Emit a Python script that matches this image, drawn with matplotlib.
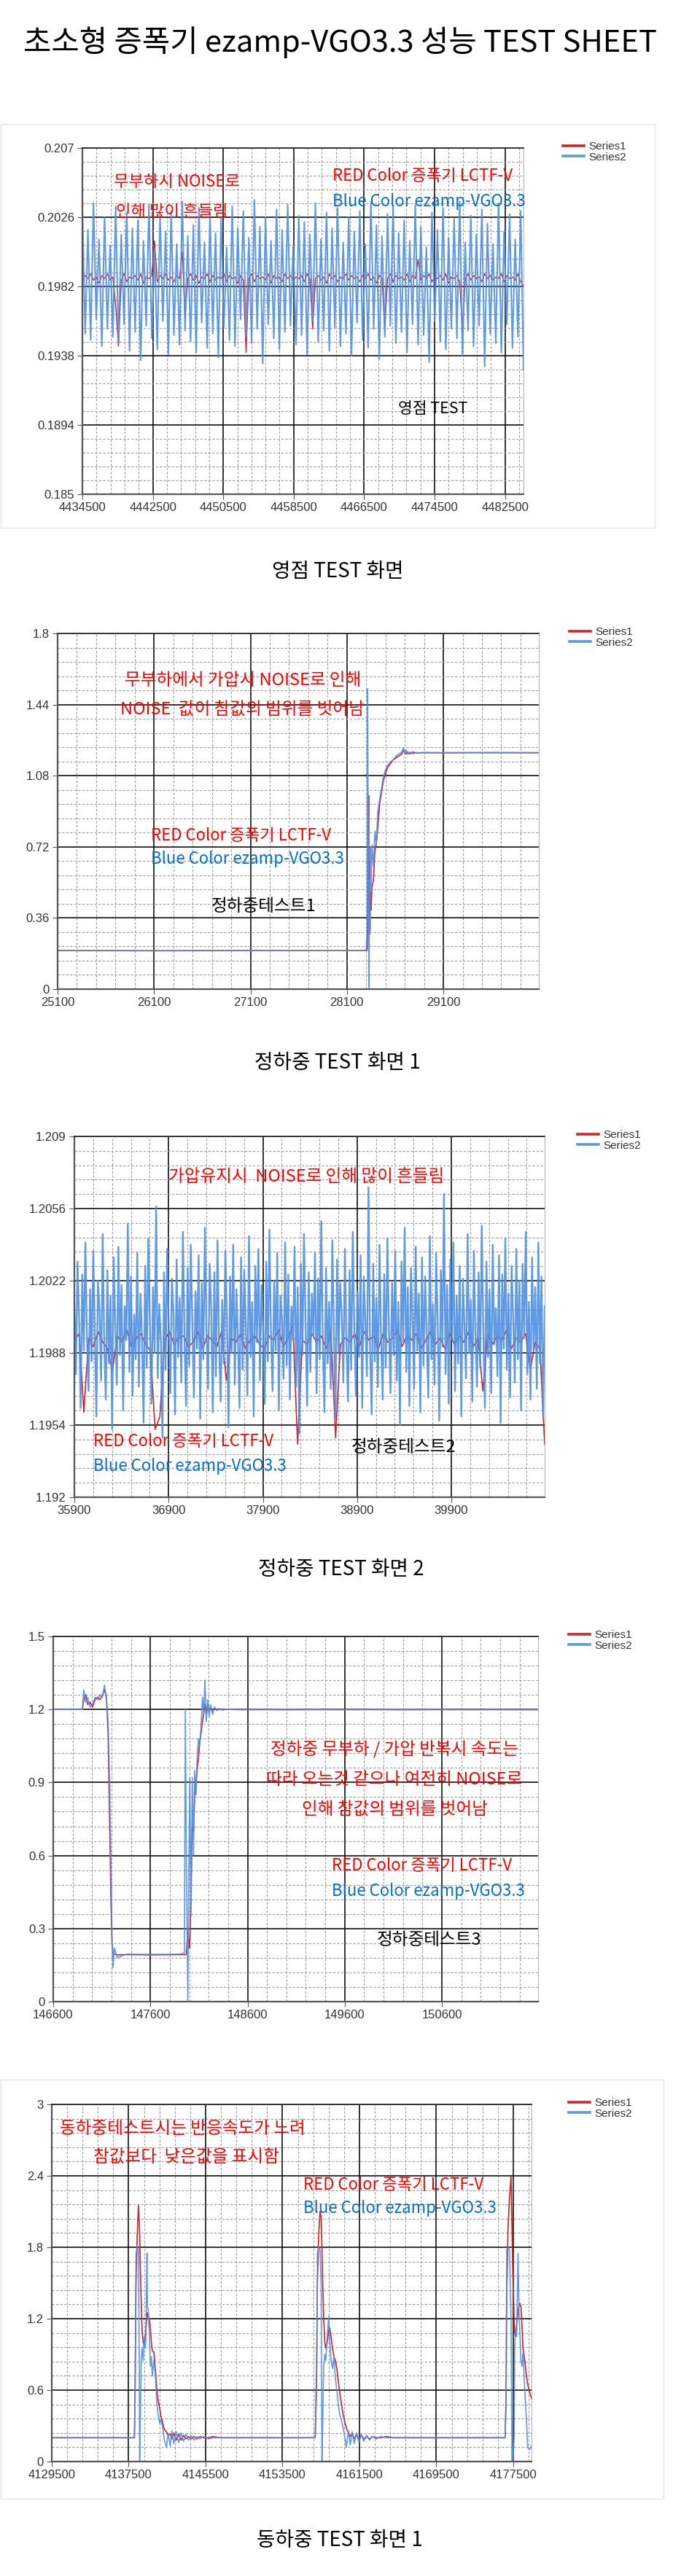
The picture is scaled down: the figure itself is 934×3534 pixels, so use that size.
import numpy as np
import matplotlib
matplotlib.use('Agg')
import matplotlib.pyplot as plt
from matplotlib.lines import Line2D
from matplotlib.patches import Rectangle
from matplotlib.ticker import AutoMinorLocator
from matplotlib import font_manager

W, H = 934, 3534
KR = ['Noto Sans CJK KR', 'DejaVu Sans']
names = {f.name for f in font_manager.fontManager.ttflist}
TICK_FONT = 'Liberation Sans Narrow' if 'Liberation Sans Narrow' in names else 'Liberation Sans'

RED = '#d0222c'
BLUE = '#4f8fe3'
TXT_RED = '#ff0000'
TXT_BLUE = '#0a6ec8'

# ---------------- chart 1 : 영점 TEST ----------------
x1_range = [4434500, 4484600]
x1_ticks = [4434500, 4442500, 4450500, 4458500, 4466500, 4474500, 4482500]
y1_ticks = [0.185, 0.1894, 0.1938, 0.1982, 0.2026, 0.207]
y1_labels = ['0.185', '0.1894', '0.1938', '0.1982', '0.2026', '0.207']
blue1 = [0.2031, 0.1952, 0.2018, 0.1948, 0.2035, 0.1961, 0.2012, 0.1944, 0.2026, 0.1955, 0.2008, 0.1950, 0.2033, 0.1946, 0.2015, 0.1958, 0.2029, 0.1941, 0.2019, 0.1953,
         0.2024, 0.1935, 0.2011, 0.1957, 0.2034, 0.1949, 0.2006, 0.1942, 0.2027, 0.1960, 0.2017, 0.1939, 0.2030, 0.1951, 0.2009, 0.1945, 0.2036, 0.1954, 0.2014, 0.1947,
         0.2021, 0.1940, 0.2032, 0.1959, 0.2010, 0.1943, 0.2028, 0.1952, 0.2016, 0.1937, 0.2025, 0.1956, 0.2007, 0.1948, 0.2033, 0.1944, 0.2019, 0.1961, 0.2030, 0.1950,
         0.2013, 0.1946, 0.2037, 0.1955, 0.2020, 0.1933, 0.2026, 0.1958, 0.2011, 0.1949, 0.2031, 0.1942, 0.2018, 0.1953, 0.2034, 0.1957, 0.2008, 0.1945, 0.2027, 0.1951,
         0.2023, 0.1939, 0.2015, 0.1960, 0.2035, 0.1947, 0.2012, 0.1954, 0.2029, 0.1941, 0.2019, 0.1956, 0.2032, 0.1944, 0.2010, 0.1952, 0.2026, 0.1938, 0.2017, 0.1959,
         0.2030, 0.1948, 0.2009, 0.1943, 0.2036, 0.1955, 0.2021, 0.1936, 0.2014, 0.1950, 0.2028, 0.1957, 0.2033, 0.1946, 0.2016, 0.1953, 0.2024, 0.1940, 0.2011, 0.1958,
         0.2034, 0.1945, 0.2020, 0.1951, 0.2007, 0.1934, 0.2029, 0.1960, 0.2018, 0.1947, 0.2032, 0.1942, 0.2013, 0.1955, 0.2025, 0.1949, 0.2036, 0.1938, 0.2010, 0.1954,
         0.2027, 0.1944, 0.2015, 0.1957, 0.2031, 0.1931, 0.2022, 0.1952, 0.2009, 0.1946, 0.2035, 0.1940, 0.2017, 0.1958, 0.2028, 0.1943, 0.2012, 0.1950, 0.2030, 0.1929]
red1 = [0.1985, 0.1989, 0.1987, 0.1990, 0.1986, 0.1988, 0.1984, 0.1989, 0.1987, 0.1990, 0.1986, 0.1988, 0.1970, 0.1944, 0.1986, 0.1990, 0.1985, 0.1988, 0.1987, 0.1989,
        0.1986, 0.1990, 0.1984, 0.1988, 0.1987, 0.1989, 0.2011, 0.1985, 0.1989, 0.1987, 0.1990, 0.1986, 0.1988, 0.1985, 0.1989, 0.1987, 0.2004, 0.1963, 0.1987, 0.1990,
        0.1986, 0.1989, 0.1984, 0.1988, 0.1987, 0.1990, 0.1985, 0.1989, 0.1986, 0.1988, 0.1987, 0.1990, 0.1985, 0.1989, 0.1987, 0.1988, 0.1984, 0.1989, 0.1986, 0.1940,
        0.1987, 0.1990, 0.1985, 0.1989, 0.1987, 0.1988, 0.1986, 0.1990, 0.1984, 0.1989, 0.1987, 0.1988, 0.1985, 0.1990, 0.1987, 0.1989, 0.1986, 0.1988, 0.1987, 0.1989,
        0.1985, 0.1990, 0.1987, 0.1955, 0.1987, 0.1989, 0.1986, 0.1988, 0.1984, 0.1990, 0.1987, 0.1989, 0.1985, 0.1988, 0.1987, 0.1990, 0.1986, 0.1989, 0.1987, 0.1988,
        0.1985, 0.1989, 0.1987, 0.1990, 0.1986, 0.1988, 0.1984, 0.1989, 0.1987, 0.1955, 0.1987, 0.1990, 0.1985, 0.1989, 0.1987, 0.1988, 0.1986, 0.1990, 0.1985, 0.1989,
        0.1987, 0.1999, 0.1986, 0.1989, 0.1987, 0.1990, 0.1985, 0.1988, 0.1987, 0.1989, 0.1986, 0.1990, 0.1984, 0.1988, 0.1987, 0.1989, 0.1985, 0.1953, 0.1987, 0.1990,
        0.1986, 0.1989, 0.1987, 0.1988, 0.1985, 0.1990, 0.1987, 0.1989, 0.1986, 0.1988, 0.1987, 0.1990, 0.1985, 0.1989, 0.1987, 0.1988, 0.1986, 0.1990, 0.1985, 0.1982]

# ---------------- chart 2 : 정하중 테스트 1 ----------------
x2_range = [25100, 30090]
x2_ticks = [25100, 26100, 27100, 28100, 29100]
y2_ticks = [0, 0.36, 0.72, 1.08, 1.44, 1.8]
y2_labels = ['0', '0.36', '0.72', '1.08', '1.44', '1.8']
x2 = [25100, 26100, 27100, 28100, 28300, 28310, 28315, 28320, 28325, 28330, 28335, 28340, 28345, 28350, 28360, 28375,
      28390, 28405, 28420, 28440, 28460, 28480, 28500, 28520, 28550, 28580, 28610, 28640, 28670, 28685, 28700, 28715,
      28730, 28750, 28780, 28820, 28900, 29100, 29600, 30100]
red2 = [0.195, 0.194, 0.195, 0.195, 0.195, 0.196, 0.30, 0.62, 0.98, 0.45, 0.28, 0.42, 0.49, 0.40, 0.52, 0.55,
        0.70, 0.74, 0.82, 0.94, 1.00, 1.06, 1.09, 1.12, 1.14, 1.16, 1.17, 1.18, 1.19, 1.21, 1.20, 1.19,
        1.20, 1.19, 1.20, 1.195, 1.197, 1.196, 1.197, 1.196]
blue2 = [0.196, 0.195, 0.196, 0.195, 0.196, 0.30, 1.52, 0.90, 0.35, 0.007, 0.55, 0.30, 0.72, 0.50, 0.73, 0.62,
         0.80, 0.73, 0.90, 0.96, 1.02, 1.08, 1.11, 1.13, 1.15, 1.16, 1.18, 1.19, 1.20, 1.22, 1.19, 1.21,
         1.19, 1.20, 1.19, 1.197, 1.196, 1.197, 1.196, 1.197]

# ---------------- chart 3 : 정하중 테스트 2 ----------------
x3_range = [35900, 40890]
x3_ticks = [35900, 36900, 37900, 38900, 39900]
y3_ticks = [1.192, 1.1954, 1.1988, 1.2022, 1.2056, 1.209]
y3_labels = ['1.192', '1.1954', '1.1988', '1.2022', '1.2056', '1.209']
blue3 = [1.2012, 1.1978, 1.2031, 1.2004, 1.1962, 1.2025, 1.1989, 1.2040, 1.1995, 1.1970, 1.2018, 1.1984, 1.2036, 1.1999, 1.1958, 1.2022, 1.2008, 1.1975, 1.2044, 1.1991,
         1.1966, 1.2027, 1.1983, 1.2015, 1.1952, 1.2033, 1.2001, 1.1973, 1.2038, 1.1987, 1.2020, 1.1961, 1.2010, 1.1994, 1.2049, 1.1979, 1.2024, 1.1968, 1.2006, 1.1985,
         1.2035, 1.1972, 1.2016, 1.1997, 1.1955, 1.2029, 1.1981, 1.2042, 1.2003, 1.1964, 1.2019, 1.1988, 1.2057, 1.1976, 1.2011, 1.1993, 1.1948, 1.2026, 1.1980, 1.2037,
         1.1999, 1.1969, 1.2023, 1.2007, 1.1959, 1.2032, 1.1986, 1.2014, 1.1974, 1.2045, 1.1996, 1.1963, 1.2028, 1.1982, 1.2039, 1.2002, 1.1967, 1.2017, 1.1990, 1.2034,
         1.1957, 1.2021, 1.1985, 1.2047, 1.1998, 1.1971, 1.2030, 1.2009, 1.1960, 1.2026, 1.1977, 1.2041, 1.1992, 1.1965, 1.2013, 1.1983, 1.2036, 1.2005, 1.1953, 1.2024,
         1.1988, 1.2039, 1.1973, 1.2018, 1.1995, 1.1962, 1.2033, 1.1980, 1.2027, 1.2002, 1.1968, 1.2043, 1.1986, 1.2012, 1.1958, 1.2029, 1.1993, 1.2037, 1.1975, 1.2020,
         1.2000, 1.1964, 1.2031, 1.1984, 1.2046, 1.1997, 1.1970, 1.2022, 1.1989, 1.2035, 1.1961, 1.2015, 1.2004, 1.1976, 1.2040, 1.1982, 1.2025, 1.1966, 1.2010, 1.1994,
         1.2038, 1.1972, 1.2019, 1.1950, 1.2030, 1.1987, 1.2044, 1.2001, 1.1963, 1.2026, 1.1979, 1.2016, 1.1996, 1.2035, 1.1969, 1.2023, 1.1985, 1.2050, 1.1991, 1.1960,
         1.2028, 1.1983, 1.2012, 1.1971, 1.2041, 1.1998, 1.1957, 1.2032, 1.1988, 1.2021, 1.2006, 1.1974, 1.2037, 1.1992, 1.1965, 1.2027, 1.1980, 1.2045, 1.1999, 1.1968,
         1.2017, 1.1986, 1.2034, 1.1962, 1.2024, 1.2003, 1.1977, 1.2066, 1.1990, 1.1959, 1.2030, 1.1984, 1.2014, 1.1972, 1.2039, 1.1995, 1.1966, 1.2025, 1.1981, 1.2042,
         1.2000, 1.1969, 1.2021, 1.1987, 1.2036, 1.1975, 1.2012, 1.1954, 1.2031, 1.1993, 1.2047, 1.1979, 1.2019, 1.1963, 1.2028, 1.2005, 1.1971, 1.2038, 1.1989, 1.2016,
         1.1960, 1.2033, 1.1982, 1.2024, 1.1997, 1.1967, 1.2043, 1.1985, 1.2011, 1.1973, 1.2035, 1.2002, 1.1956, 1.2027, 1.1991, 1.2063, 1.1978, 1.2020, 1.1964, 1.2032,
         1.1994, 1.2040, 1.1970, 1.2015, 1.1983, 1.2029, 1.1958, 1.2023, 1.2001, 1.1976, 1.2044, 1.1988, 1.2013, 1.1965, 1.2036, 1.1996, 1.1972, 1.2026, 1.1981, 1.2048,
         1.1999, 1.1962, 1.2031, 1.1986, 1.2018, 1.1969, 1.2039, 1.1992, 1.2009, 1.1977, 1.2034, 1.1955, 1.2025, 1.1990, 1.2042, 1.1980, 1.2016, 1.1967, 1.2029, 1.2004,
         1.1974, 1.2037, 1.1985, 1.2022, 1.1961, 1.2030, 1.1996, 1.2045, 1.1978, 1.2012, 1.1966, 1.2033, 1.1989, 1.2019, 1.1971, 1.2040, 1.1983, 1.2024, 1.1958, 1.2010]
red3 = [1.1994, 1.1997, 1.1960, 1.1995, 1.1991, 1.1998, 1.1993, 1.1990, 1.1979, 1.1996, 1.1993, 1.1999, 1.1991, 1.1995, 1.1997, 1.1992, 1.1989, 1.1952, 1.1958, 1.1994,
        1.1998, 1.1992, 1.1995, 1.1996, 1.1991, 1.1993, 1.1998, 1.1990, 1.1996, 1.1994, 1.1991, 1.1998, 1.1975, 1.1995, 1.1993, 1.1997, 1.1990, 1.1994, 1.1996, 1.1992,
        1.1990, 1.1996, 1.1994, 1.1999, 1.1991, 1.1995, 1.2001, 1.1945, 1.1994, 1.1992, 1.1997, 1.1993, 1.1996, 1.1990, 1.1998, 1.1948, 1.1992, 1.1995, 1.1993, 1.1997,
        1.1991, 1.1998, 1.1994, 1.1996, 1.1990, 1.1997, 1.1993, 1.1995, 1.1999, 1.1991, 1.1996, 1.1994, 1.1997, 1.1990, 1.1994, 1.1998, 1.1992, 1.1995, 1.1990, 1.1997,
        1.1992, 1.1996, 1.1993, 1.1998, 1.1991, 1.1995, 1.1970, 1.1997, 1.1992, 1.1996, 1.1994, 1.1999, 1.1990, 1.1995, 1.1993, 1.1997, 1.1980, 1.1993, 1.1990, 1.1945]

# ---------------- chart 4 : 정하중 테스트 3 ----------------
x4_range = [146600, 151590]
x4_ticks = [146600, 147600, 148600, 149600, 150600]
y4_ticks = [0, 0.3, 0.6, 0.9, 1.2, 1.5]
y4_labels = ['0', '0.3', '0.6', '0.9', '1.2', '1.5']
x4 = [146600, 146900, 146915, 146935, 146955, 146980, 147005, 147030, 147055, 147080, 147105, 147128, 147148, 147165,
      147180, 147195, 147205, 147215, 147230, 147260, 147350, 147600, 147900, 147950, 147960, 147970, 147985, 147995,
      148005, 148018, 148031, 148044, 148056, 148070, 148081, 148095, 148106, 148120, 148136, 148150, 148161, 148175,
      148190, 148205, 148220, 148240, 148260, 148285, 148310, 148340, 148380, 148500, 149000, 149600, 150200, 150800, 151600]
red4 = [1.20, 1.20, 1.24, 1.26, 1.22, 1.23, 1.21, 1.24, 1.25, 1.24, 1.26, 1.28, 1.25, 1.10,
        0.75, 0.40, 0.24, 0.20, 0.195, 0.192, 0.193, 0.192, 0.193, 0.193, 0.193, 0.195, 0.30, 0.25,
        0.22, 0.45, 0.72, 0.70, 0.85, 0.90, 0.95, 1.00, 1.06, 1.10, 1.15, 1.19, 1.22, 1.18,
        1.22, 1.19, 1.21, 1.19, 1.205, 1.197, 1.202, 1.199, 1.200, 1.200, 1.199, 1.200, 1.199, 1.200, 1.199]
blue4 = [1.200, 1.200, 1.28, 1.23, 1.25, 1.21, 1.22, 1.25, 1.24, 1.26, 1.25, 1.30, 1.24, 1.15,
         0.90, 0.55, 0.26, 0.14, 0.22, 0.18, 0.195, 0.194, 0.195, 0.20, 1.20, 0.60, 0.00, 0.50,
         0.92, 0.35, 0.92, 0.60, 0.95, 0.85, 1.00, 1.08, 1.05, 1.12, 1.25, 1.18, 1.32, 1.15,
         1.24, 1.17, 1.22, 1.18, 1.21, 1.195, 1.204, 1.198, 1.201, 1.199, 1.201, 1.199, 1.201, 1.199, 1.200]

# ---------------- chart 5 : 동하중 테스트 1 ----------------
x5_range = [4129500, 4179400]
x5_ticks = [4129500, 4137500, 4145500, 4153500, 4161500, 4169500, 4177500]
y5_ticks = [0, 0.6, 1.2, 1.8, 2.4, 3.0]
y5_labels = ['0', '0.6', '1.2', '1.8', '2.4', '3']
x5 = [4129500, 4138100, 4138180, 4138262, 4138389, 4138516, 4138600, 4138643, 4138719, 4138800, 4138897, 4139000,
      4139100, 4139200, 4139278, 4139405, 4139450, 4139532, 4139659, 4139760, 4139862, 4139960, 4140116, 4140200,
      4140300, 4140421, 4140550, 4140726, 4140850, 4141056, 4141200, 4141437, 4141600, 4141818, 4142000, 4142199,
      4142450, 4142700, 4142950, 4143200, 4143450, 4143722, 4144000, 4144300, 4144600, 4144900, 4145300, 4145800,
      4146300, 4147000, 4156900,
      4157050, 4157130, 4157260, 4157400, 4157520, 4157600, 4157680, 4157780, 4157900, 4158000, 4158150, 4158300,
      4158420, 4158550, 4158700, 4158850, 4159000, 4159150, 4159300, 4159450, 4159600, 4159750, 4159950, 4160150,
      4160350, 4160550, 4160750, 4160950, 4161200, 4161450, 4161700, 4161950, 4162250, 4162550, 4162850, 4163250,
      4163700, 4164300, 4165000, 4176650,
      4176750, 4176820, 4176950, 4177100, 4177270, 4177360, 4177450, 4177590, 4177650, 4177730, 4177850, 4177995,
      4178100, 4178180, 4178300, 4178400, 4178520, 4178700, 4178870, 4179000, 4179200, 4179450]
red5 = [0.20, 0.20, 0.75, 1.50, 1.90, 2.15, 2.00, 1.90, 1.60, 1.35, 1.10, 1.00,
        0.98, 1.02, 1.10, 1.22, 1.25, 1.22, 1.20, 1.12, 1.00, 0.93, 0.92, 0.85,
        0.75, 0.62, 0.52, 0.45, 0.38, 0.32, 0.27, 0.25, 0.22, 0.23, 0.19, 0.24,
        0.18, 0.23, 0.18, 0.22, 0.19, 0.21, 0.19, 0.21, 0.19, 0.21, 0.20, 0.20,
        0.21, 0.20, 0.20,
        0.80, 1.50, 1.90, 2.10, 2.05, 1.80, 1.50, 1.20, 1.00, 0.95, 1.00, 1.10,
        1.12, 1.05, 0.95, 0.88, 0.85, 0.78, 0.68, 0.58, 0.50, 0.42, 0.34, 0.28,
        0.24, 0.21, 0.24, 0.19, 0.23, 0.18, 0.22, 0.19, 0.21, 0.19, 0.21, 0.20,
        0.20, 0.21, 0.20, 0.20,
        0.55, 1.40, 1.95, 2.20, 2.40, 2.00, 1.60, 1.20, 1.08, 1.05, 1.15, 1.25,
        1.32, 1.33, 1.30, 1.15, 0.95, 0.85, 0.72, 0.65, 0.58, 0.52]
blue5 = [0.20, 0.20, 0.60, 1.75, 1.80, 1.78, 0.80, 0.00, 0.40, 0.85, 0.95, 0.85,
         1.05, 0.95, 1.00, 1.75, 1.30, 1.28, 1.05, 0.80, 0.88, 0.72, 0.85, 0.80,
         0.70, 0.50, 0.40, 0.32, 0.35, 0.28, 0.18, 0.12, 0.24, 0.13, 0.26, 0.15,
         0.25, 0.16, 0.24, 0.17, 0.23, 0.18, 0.22, 0.18, 0.21, 0.19, 0.21, 0.19,
         0.20, 0.20, 0.20,
         0.60, 1.75, 1.80, 1.78, 1.50, 0.00, 0.30, 0.80, 0.90, 0.85, 1.05, 1.22,
         1.00, 0.85, 0.78, 0.88, 0.70, 0.60, 0.48, 0.40, 0.36, 0.30, 0.22, 0.12,
         0.26, 0.14, 0.25, 0.15, 0.24, 0.16, 0.23, 0.17, 0.22, 0.18, 0.21, 0.19,
         0.21, 0.20, 0.20, 0.20,
         0.45, 1.78, 1.80, 1.78, 1.20, 0.00, 0.00, 0.20, 0.95, 1.10, 1.05, 1.75,
         1.25, 1.10, 0.85, 0.80, 0.92, 0.60, 0.35, 0.12, 0.10, 0.14]

fig = plt.figure(figsize=(W / 100, H / 100), dpi=100)
fig.patch.set_facecolor('white')


def add_axes(left, top, right, bottom):
    return fig.add_axes([left / W, 1 - bottom / H, (right - left) / W, (bottom - top) / H])


def style(ax, xr, xt, yt, yl):
    ax.set_xlim(xr)
    ax.set_ylim(yt[0], yt[-1])
    ax.set_xticks(xt)
    ax.set_xticklabels([str(t) for t in xt], fontfamily=TICK_FONT, fontsize=12, color='#333333')
    ax.set_yticks(yt)
    ax.set_yticklabels(yl, fontfamily=TICK_FONT, fontsize=12, color='#333333')
    ax.xaxis.set_minor_locator(AutoMinorLocator(5))
    ax.yaxis.set_minor_locator(AutoMinorLocator(5))
    ax.grid(which='major', color='#111111', lw=1.2)
    ax.grid(which='minor', color='#9c9c9c', lw=0.8, ls=(0, (3, 2)))
    ax.set_axisbelow(True)
    ax.tick_params(which='major', direction='out', length=5, color='#555555', pad=3)
    ax.tick_params(which='minor', length=0)
    for s in ['left', 'bottom']:
        ax.spines[s].set_color('#555555')
        ax.spines[s].set_linewidth(1.6)
    ax.spines['top'].set_color('#222222')
    ax.spines['top'].set_linewidth(1.2)
    ax.spines['right'].set_color('#b5b5b5')
    ax.spines['right'].set_linewidth(0.8)


def legend(ax, x, y):
    handles = [Line2D([], [], color='#c8282e', lw=2.6), Line2D([], [], color='#5b9ad8', lw=2.6)]
    ax.legend(handles, ['Series1', 'Series2'], loc='upper left', bbox_to_anchor=(x / W, 1 - (y - 9) / H),
              bbox_transform=fig.transFigure, frameon=False, handlelength=1.9, handletextpad=0.4,
              labelspacing=0.05, borderpad=0, borderaxespad=0,
              prop={'family': TICK_FONT, 'size': 11}, labelcolor='#333333')


def note(x, y, s, color, size, ha='left'):
    fig.text(x / W, 1 - y / H, s, color=color, fontsize=size, ha=ha, va='center', family=KR)


# light frames around the first and last screenshots
fig.add_artist(Rectangle((1 / W, 1 - 724 / H), 897 / W, 554 / H, transform=fig.transFigure,
                         fill=False, edgecolor='#e4e4e4', lw=1))
fig.add_artist(Rectangle((1 / W, 1 - 3428 / H), 909 / W, 575 / H, transform=fig.transFigure,
                         fill=False, edgecolor='#e4e4e4', lw=1))

fig.text(466 / W, 1 - 58 / H, '초소형 증폭기 ezamp-VGO3.3 성능 TEST SHEET', fontsize=30,
         ha='center', va='center', family=KR, color='black')

# chart 1
ax1 = add_axes(113, 203, 718, 678)
ax1.plot(np.linspace(x1_range[0], x1_range[1], len(red1)), red1, color=RED, lw=1.0)
ax1.plot(np.linspace(x1_range[0], x1_range[1], len(blue1)), blue1, color=BLUE, lw=1.5, alpha=0.9)
style(ax1, x1_range, x1_ticks, y1_ticks, y1_labels)
legend(ax1, 772, 203)
note(156, 249, '무부하시 NOISE로', TXT_RED, 16)
note(159, 290, '인해 많이 흔들림', TXT_RED, 16)
note(456, 241, 'RED Color 증폭기 LCTF-V', TXT_RED, 16)
note(456, 276, 'Blue Color ezamp-VGO3.3', TXT_BLUE, 16)
note(546, 561, '영점 TEST', 'black', 15.5)
note(463, 784, '영점 TEST 화면', 'black', 20, ha='center')

# chart 2
ax2 = add_axes(79, 869, 739, 1357)
ax2.plot(x2, red2, color=RED, lw=1.2)
ax2.plot(x2, blue2, color=BLUE, lw=1.2, alpha=0.9)
style(ax2, x2_range, x2_ticks, y2_ticks, y2_labels)
legend(ax2, 781, 869)
note(171, 933, '무부하에서 가압시 NOISE로 인해', TXT_RED, 17)
note(165, 974, 'NOISE  값이 참값의 범위를 벗어남', TXT_RED, 17)
note(207, 1146, 'RED Color 증폭기 LCTF-V', TXT_RED, 16)
note(207, 1179, 'Blue Color ezamp-VGO3.3', TXT_BLUE, 16)
note(290, 1243, '정하중테스트1', 'black', 17)
note(463, 1458, '정하중 TEST 화면 1', 'black', 20, ha='center')

# chart 3
ax3 = add_axes(102, 1559, 747, 2054)
ax3.plot(np.linspace(x3_range[0], x3_range[1], len(red3)), red3, color=RED, lw=1.2)
ax3.plot(np.linspace(x3_range[0], x3_range[1], len(blue3)), blue3, color=BLUE, lw=1.7, alpha=0.9)
style(ax3, x3_range, x3_ticks, y3_ticks, y3_labels)
legend(ax3, 792, 1559)
note(231, 1614, '가압유지시  NOISE로 인해 많이 흔들림', TXT_RED, 17)
note(128, 1977, 'RED Color 증폭기 LCTF-V', TXT_RED, 16)
note(128, 2011, 'Blue Color ezamp-VGO3.3', TXT_BLUE, 16)
note(482, 1985, '정하중테스트2', 'black', 17)
note(468, 2153, '정하중 TEST 화면 2', 'black', 20, ha='center')

# chart 4
ax4 = add_axes(73, 2245, 738, 2746)
ax4.plot(x4, red4, color=RED, lw=1.2)
ax4.plot(x4, blue4, color=BLUE, lw=1.2, alpha=0.9)
style(ax4, x4_range, x4_ticks, y4_ticks, y4_labels)
legend(ax4, 780, 2245)
note(541, 2400, '정하중 무부하 / 가압 반복시 속도는', TXT_RED, 17, ha='center')
note(541, 2442, '따라 오는것 같으나 여전히 NOISE로', TXT_RED, 17, ha='center')
note(541, 2483, '인해 참값의 범위를 벗어남', TXT_RED, 17, ha='center')
note(455, 2560, 'RED Color 증폭기 LCTF-V', TXT_RED, 16)
note(455, 2594, 'Blue Color ezamp-VGO3.3', TXT_BLUE, 16)
note(517, 2661, '정하중테스트3', 'black', 17)

# chart 5
ax5 = add_axes(71, 2887, 729, 3377)
ax5.plot(x5, red5, color=RED, lw=1.2)
ax5.plot(x5, blue5, color=BLUE, lw=1.2, alpha=0.9)
style(ax5, x5_range, x5_ticks, y5_ticks, y5_labels)
legend(ax5, 780, 2887)
note(82, 2920, '동하중테스트시는 반응속도가 느려', TXT_RED, 17)
note(128, 2959, '참값보다  낮은값을 표시함', TXT_RED, 17)
note(416, 2997, 'RED Color 증폭기 LCTF-V', TXT_RED, 16)
note(416, 3029, 'Blue Color ezamp-VGO3.3', TXT_BLUE, 16)
note(466, 3485, '동하중 TEST 화면 1', 'black', 20, ha='center')

fig.savefig('out.png', dpi=100)
